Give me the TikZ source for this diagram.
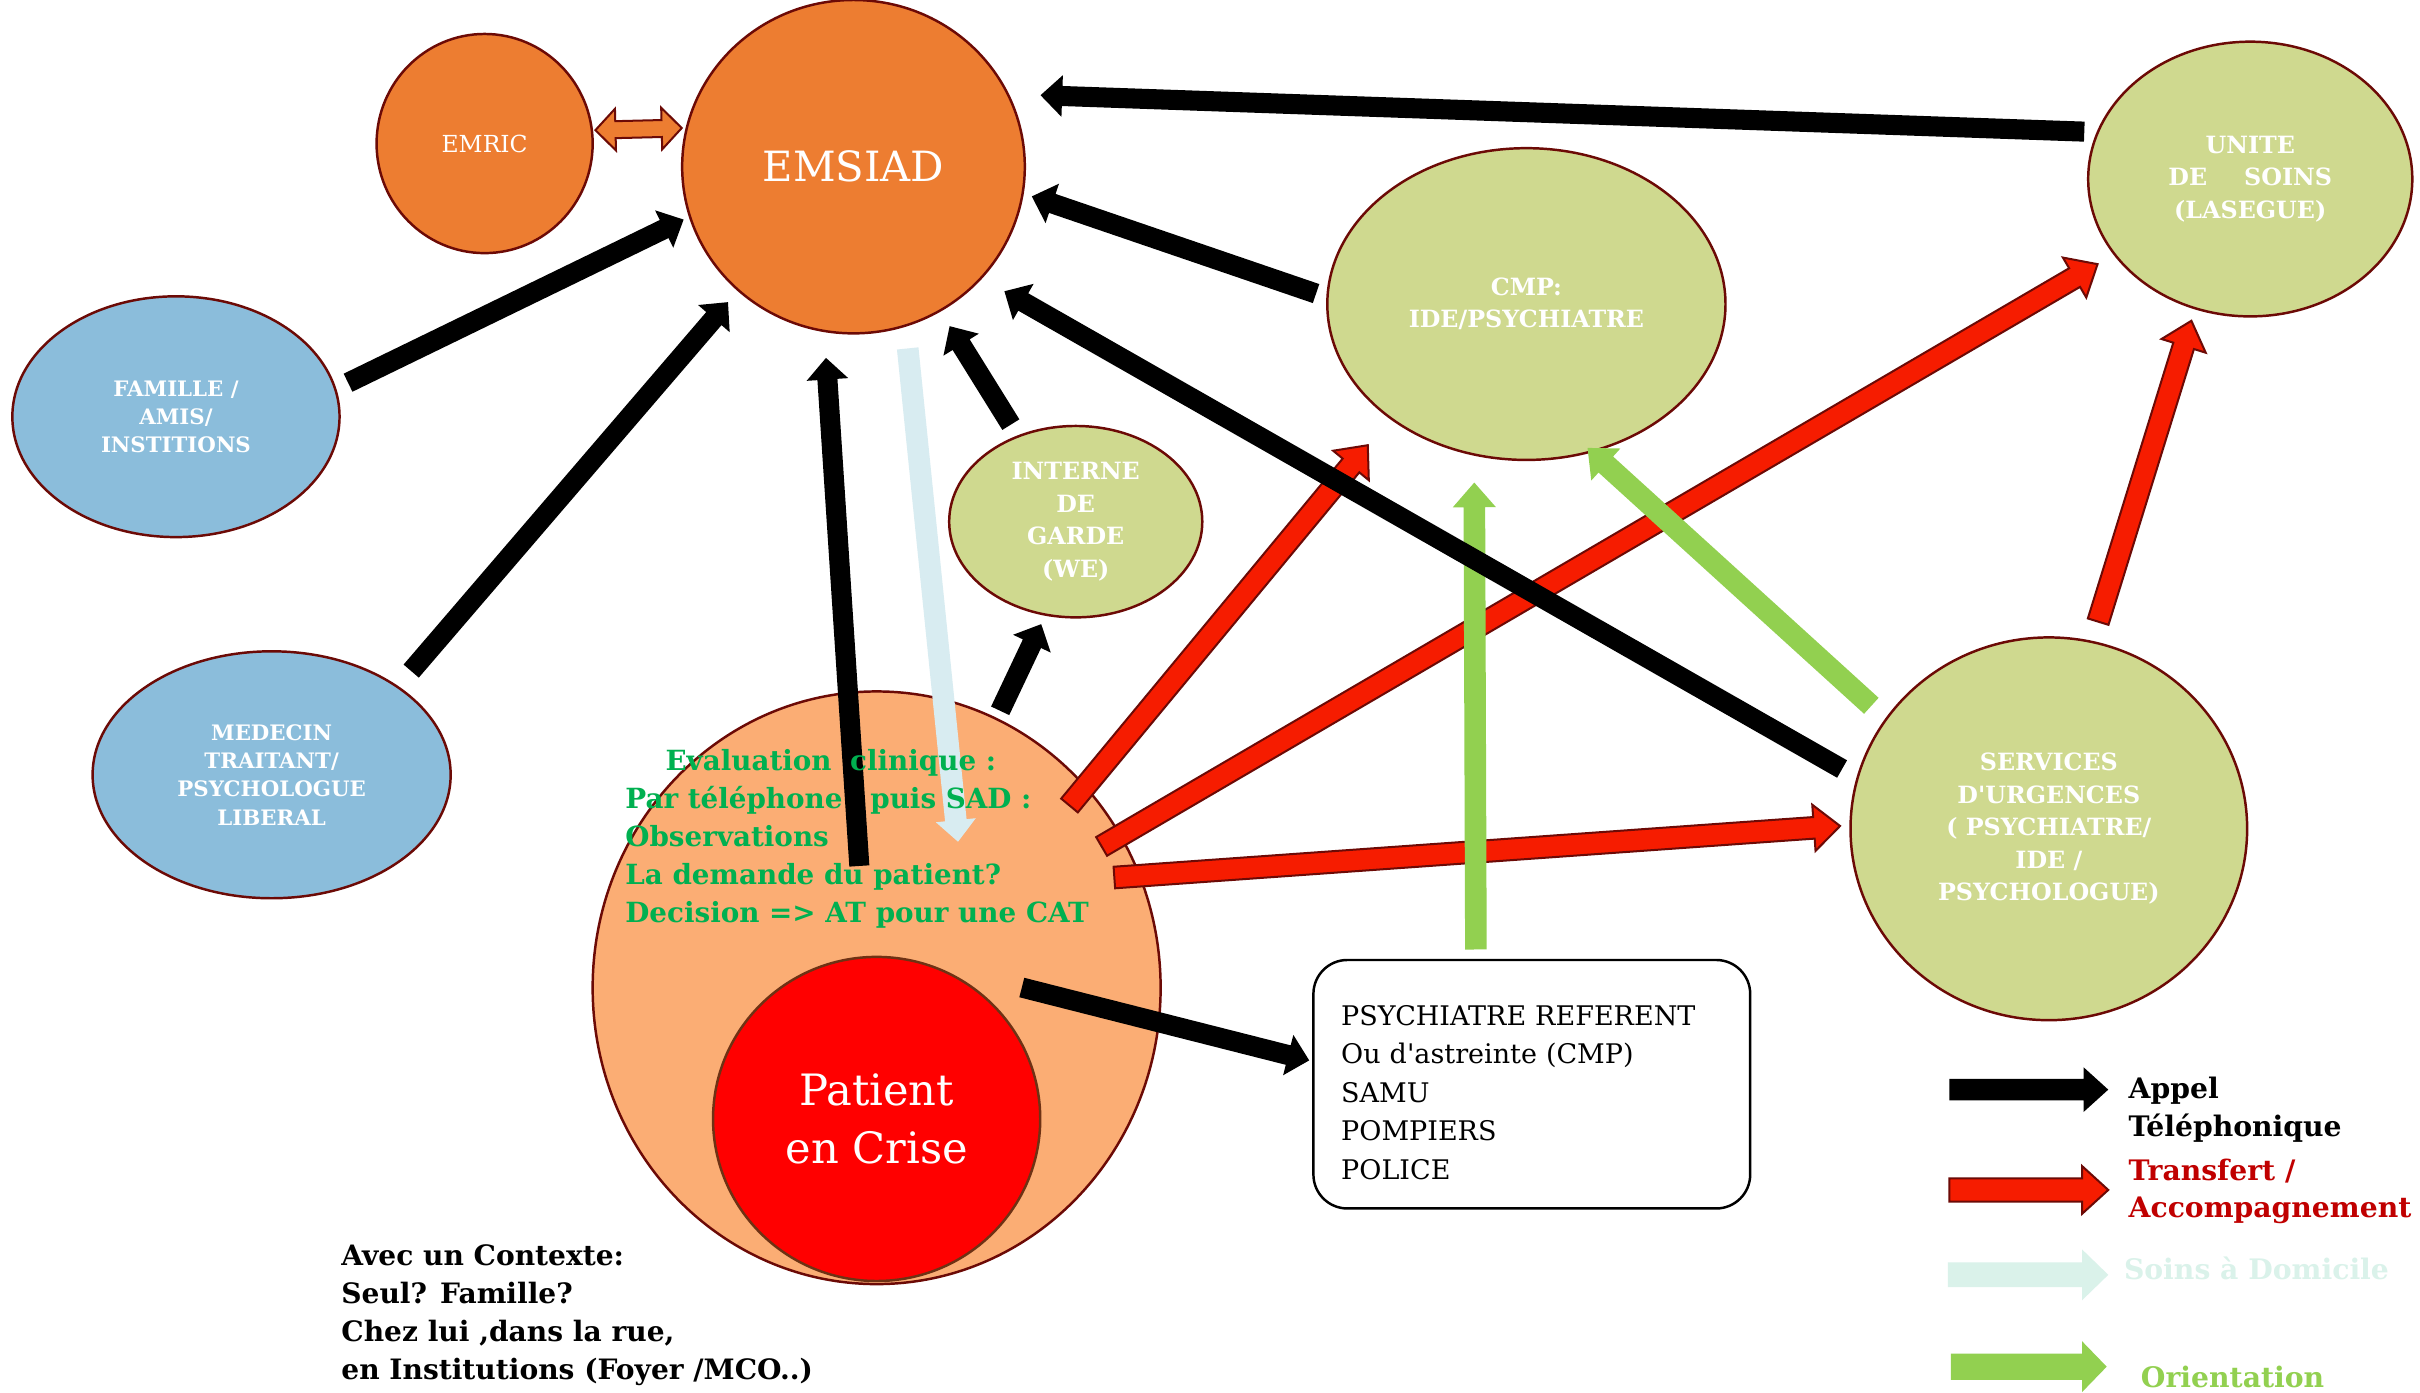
\documentclass[tikz,border=0pt]{standalone}
\usepackage{fontspec}
\setmainfont{DejaVu Serif}
\usetikzlibrary{shapes.geometric,calc}

\definecolor{emsorange}{RGB}{237,125,49}
\definecolor{rim}{RGB}{108,10,6}
\definecolor{famblue}{RGB}{139,189,219}
\definecolor{olivefill}{RGB}{207,217,143}
\definecolor{peach}{RGB}{251,173,116}
\definecolor{patred}{RGB}{255,0,0}
\definecolor{patrim}{RGB}{110,50,20}
\definecolor{evalgreen}{RGB}{0,176,80}
\definecolor{trred}{RGB}{246,28,0}
\definecolor{trtext}{RGB}{192,0,0}
\definecolor{soinsblue}{RGB}{216,236,241}
\definecolor{soinslegend}{RGB}{218,242,234}
\definecolor{orgreen}{RGB}{146,208,80}
\definecolor{callblack}{RGB}{0,0,0}

\tikzset{
  ba sw/.store in=\basw, ba hw/.store in=\bahw, ba hl/.store in=\bahl,
  ba gs/.store in=\bags, ba ge/.store in=\bage,
  ba sw=6pt, ba hw=13pt, ba hl=14pt, ba gs=0pt, ba ge=0pt,
  bubble/.style={ellipse, draw=rim, line width=1.6pt, inner sep=0pt, align=center},
  bluelbl/.style={text=white, font=\bfseries\fontsize{13.8}{18.3}\selectfont},
  olivelbl/.style={text=white, font=\bfseries\fontsize{15.4}{21}\selectfont},
  call/.style={fill=callblack, ba sw=6.5pt, ba hw=13.5pt, ba hl=14pt},
  transfer/.style={fill=trred, draw=rim, line width=1.3pt, line join=miter, ba sw=7pt, ba hw=15pt, ba hl=17pt},
  homecare/.style={fill=soinsblue, ba sw=7pt, ba hw=13pt, ba hl=14pt},
  orient/.style={fill=orgreen, ba sw=7pt, ba hw=14pt, ba hl=16pt},
  both/.style={fill=emsorange, draw=rim, line width=1.3pt, line join=miter, ba sw=5.5pt, ba hw=13.5pt, ba hl=13pt},
  legendtxt/.style={anchor=west, inner sep=0pt, align=left, font=\bfseries\fontsize{18.3}{24}\selectfont},
}

% block arrow from one anchor to another; ba gs / ba ge move the ends along the arrow
\newcommand\blockarrow[3][]{%
  \path[ba gs=0pt,ba ge=0pt,#1] let
    \p1=(#2), \p2=(#3),
    \n1={atan2(\y2-\y1,\x2-\x1)},
    \p3=($(\p1)+(\n1:\bags)$),
    \p4=($(\p2)-(\n1:\bage)$),
    \n2={veclen(\x4-\x3,\y4-\y3)-\bahl}
  in ($(\p3)+({\n1+90}:\basw)$)
  -- ($(\p3)+(\n1:\n2)+({\n1+90}:\basw)$)
  -- ($(\p3)+(\n1:\n2)+({\n1+90}:\bahw)$)
  -- (\p4)
  -- ($(\p3)+(\n1:\n2)+({\n1-90}:\bahw)$)
  -- ($(\p3)+(\n1:\n2)+({\n1-90}:\basw)$)
  -- ($(\p3)+({\n1-90}:\basw)$)
  -- cycle;}

% double-headed block arrow
\newcommand\dblarrow[3][]{%
  \path[ba gs=0pt,ba ge=0pt,#1] let
    \p1=(#2), \p2=(#3),
    \n1={atan2(\y2-\y1,\x2-\x1)},
    \p3=($(\p1)+(\n1:\bags)$),
    \p4=($(\p2)-(\n1:\bage)$),
    \n2={veclen(\x4-\x3,\y4-\y3)-\bahl}
  in (\p3)
  -- ($(\p3)+(\n1:\bahl)+({\n1+90}:\bahw)$)
  -- ($(\p3)+(\n1:\bahl)+({\n1+90}:\basw)$)
  -- ($(\p3)+(\n1:\n2)+({\n1+90}:\basw)$)
  -- ($(\p3)+(\n1:\n2)+({\n1+90}:\bahw)$)
  -- (\p4)
  -- ($(\p3)+(\n1:\n2)+({\n1-90}:\bahw)$)
  -- ($(\p3)+(\n1:\n2)+({\n1-90}:\basw)$)
  -- ($(\p3)+(\n1:\bahl)+({\n1-90}:\basw)$)
  -- ($(\p3)+(\n1:\bahl)+({\n1-90}:\bahw)$)
  -- cycle;}

\begin{document}
\begin{tikzpicture}[x=1pt,y=-1pt]
\fill[white] (0,0) rectangle (1568,902);
\useasboundingbox (0,0) rectangle (1568,902);

% services
\node[bubble, fill=emsorange, minimum width=140pt, minimum height=142pt,
      text=white, font=\fontsize{15.2}{18}\selectfont] (emric) at (314,93) {EMRIC};
\node[bubble, fill=emsorange, minimum width=222pt, minimum height=216pt,
      text=white, font=\fontsize{27}{32}\selectfont] (emsiad) at (553,108) {EMSIAD};
\node[bubble, fill=famblue, minimum width=212pt, minimum height=156pt, bluelbl]
      (fam) at (114,270) {FAMILLE /\\AMIS/\\INSTITIONS};
\node[bubble, fill=famblue, minimum width=232pt, minimum height=160pt, bluelbl]
      (med) at (176,502) {MEDECIN\\TRAITANT/\\PSYCHOLOGUE\\LIBERAL};
\node[bubble, fill=olivefill, minimum width=164pt, minimum height=124pt, olivelbl]
      (int) at (697,338) {INTERNE\\DE\\GARDE\\(WE)};
\node[bubble, fill=olivefill, minimum width=258pt, minimum height=202pt, olivelbl]
      (cmp) at (989,197) {CMP:\\IDE/PSYCHIATRE};
\node[bubble, fill=olivefill, minimum width=210pt, minimum height=178pt, olivelbl]
      (unite) at (1458,116) {UNITE\\DE\hspace{24pt}SOINS\\(LASEGUE)};
\node[bubble, fill=olivefill, minimum width=257pt, minimum height=248pt, olivelbl]
      (urg) at (1327.5,537) {SERVICES\\D\textquotesingle URGENCES\\( PSYCHIATRE/\\IDE /\\PSYCHOLOGUE)};

% patient and his evaluation
\node[bubble, fill=peach, minimum width=368pt, minimum height=384pt] (eval) at (568,640) {};
\node[bubble, fill=patred, draw=patrim, minimum width=212pt, minimum height=210pt,
      text=white, font=\fontsize{28}{38}\selectfont] (pat) at (568,725) {Patient\\en Crise};

% emergency contacts
\node[draw=black, line width=1.6pt, rounded corners=22pt, fill=white,
      minimum width=283pt, minimum height=161pt, text width=247pt, inner xsep=18pt,
      align=left, font=\fontsize{17.5}{25}\selectfont] (box) at (992.5,702.5)
      {\rule{0pt}{23.5pt}PSYCHIATRE REFERENT\\Ou d\textquotesingle astreinte (CMP)\\SAMU\\POMPIERS\\POLICE};

% EMRIC <-> EMSIAD
\dblarrow[both, ba gs=1.5pt, ba ge=2.5pt]{emric.7.4}{emsiad.167.5}

% transfers
\blockarrow[transfer, ba gs=-16.7pt, ba ge=22.2pt]{eval.44.16}{cmp.220.1}
\blockarrow[transfer, ba gs=-14.8pt, ba ge=12pt]{eval.32.86}{unite.209.3}
\blockarrow[transfer, ba gs=-17.2pt, ba ge=6pt]{eval.23.27}{urg.179.1}
\blockarrow[transfer, ba gs=13pt, ba ge=7.7pt]{urg.77.6}{unite.247.3}

% home care
\blockarrow[homecare, ba gs=14.1pt, ba ge=-93.3pt]{emsiad.288.1}{eval.77.75}

% orientation
\blockarrow[orient, ba gs=6pt, ba ge=17.4pt]{box.114.4}{cmp.251.3}
\blockarrow[orient, ba gs=12.2pt, ba ge=-4.3pt]{urg.146.2}{cmp.294.9}

% phone calls
\blockarrow[call, ba gs=8.5pt, ba ge=3.8pt]{fam.10.7}{emsiad.197.8}
\blockarrow[call, ba gs=12.8pt, ba ge=9.5pt]{med.35.5}{emsiad.227.05}
\blockarrow[call, ba gs=58.5pt, ba ge=16.7pt]{pat.94.2}{emsiad.260.3}
\blockarrow[call, ba gs=8.2pt, ba ge=11.1pt]{int.124.1}{emsiad.301.7}
\blockarrow[call, ba gs=7pt, ba ge=5.5pt]{cmp.178.7}{emsiad.351.1}
\blockarrow[call, ba gs=8pt, ba ge=20.4pt]{unite.163.3}{emsiad.25.6}
\blockarrow[call, ba gs=10.8pt, ba ge=16.6pt]{urg.165.4}{emsiad.319.5}
\blockarrow[call, ba gs=5.1pt, ba ge=6pt]{eval.66.8}{int.252.35}
\blockarrow[call, ba gs=-92.3pt, ba ge=2pt]{eval.353.5}{box.174.2}

% clinical evaluation
\node[anchor=west, inner sep=0pt, align=left, text=evalgreen,
      font=\bfseries\fontsize{18}{24.5}\selectfont] (evaltxt) at (405,543.5)
      {\hspace*{26pt}Evaluation\hspace{12pt}clinique :\\Par téléphone\hspace{18pt}puis SAD :\\Observations\\La demande du patient?\\Decision => AT pour une CAT};

% context
\node[anchor=west, inner sep=0pt, align=left,
      font=\bfseries\fontsize{18.2}{24.7}\selectfont] (ctx) at (221,852)
      {Avec un Contexte:\\Seul? Famille?\\Chez lui ,dans la rue,\\en Institutions (Foyer /MCO..)};

% legend
\coordinate (lgCallA) at (1263,706);  \coordinate (lgCallB) at (1366,706);
\coordinate (lgTrA) at (1263,771);    \coordinate (lgTrB) at (1366,771);
\coordinate (lgSoinsA) at (1262,826); \coordinate (lgSoinsB) at (1366,826);
\coordinate (lgOrA) at (1264,885.5);  \coordinate (lgOrB) at (1365,885.5);
\blockarrow[call, ba sw=7pt, ba hw=14.5pt, ba hl=16pt]{lgCallA}{lgCallB}
\blockarrow[transfer, ba sw=7.5pt, ba hw=15.5pt, ba hl=17pt]{lgTrA}{lgTrB}
\blockarrow[fill=soinslegend, ba sw=8pt, ba hw=16.5pt, ba hl=17pt]{lgSoinsA}{lgSoinsB}
\blockarrow[orient, ba sw=8.5pt, ba hw=16.5pt, ba hl=16pt]{lgOrA}{lgOrB}

\node[legendtxt, text=black] (lgCallTxt) at (1379,719) {Appel\\Téléphonique};
\node[legendtxt, text=trtext] (lgTrTxt) at (1379,772) {Transfert /\\Accompagnement};
\node[legendtxt, text=soinslegend] (lgSoinsTxt) at (1376,822) {Soins à Domicile};
\node[legendtxt, text=orgreen] (lgOrTxt) at (1387,892) {Orientation};
\end{tikzpicture}
\end{document}
